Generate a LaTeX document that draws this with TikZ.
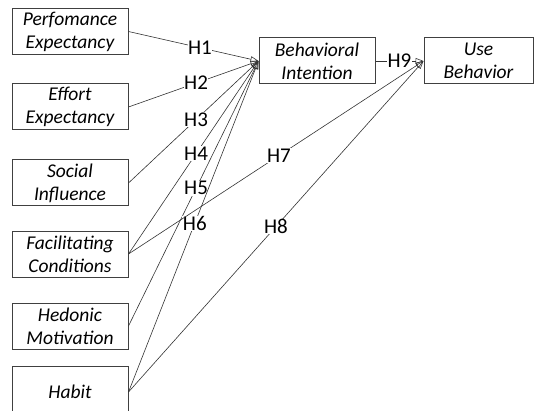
\documentclass[tikz,border=0pt]{standalone}
\usepackage{fontspec}
\setmainfont{Carlito}
\usetikzlibrary{arrows.meta}
\tikzset{
    construct/.style = {draw=black!75, line width=1pt, minimum width=116pt, minimum height=46pt,
        inner sep=0pt, align=center, font=\fontsize{19.5}{23}\selectfont\itshape},
    path edge/.style = {draw=black!80, line width=0.6pt, -{Triangle[open,length=8pt,width=6pt]}},
    hyp/.style = {fill=white, inner sep=0.5pt, font=\fontsize{21}{23}\selectfont},
}

\begin{document}
\begin{tikzpicture}[x=1pt, y=-1pt]
            \clip (0, 0) rectangle (534, 411);

            \node[construct] (PE) at (70, 31.5) {Perfomance\\Expectancy};
            \node[construct] (EE) at (70, 107) {Effort\\Expectancy};
            \node[construct] (SI) at (70, 183) {Social\\Influence};
            \node[construct] (FC) at (70, 254) {Facilitating\\Conditions};
            \node[construct] (HM) at (70, 326) {Hedonic\\Motivation};
            \node[construct, minimum height=52pt] (HB) at (70, 392) {Habit};

            \node[construct] (BI) at (317, 61) {Behavioral\\Intention};
            \node[construct, minimum width=109pt] (UB) at (478.5, 61) {Use\\Behavior};

            \draw[path edge] (PE.east) -- node[hyp, pos=0.55] {H1} (BI.west);
            \draw[path edge] (EE.east) -- node[hyp, pos=0.52] {H2} (BI.west);
            \draw[path edge] (SI.east) -- node[hyp, pos=0.52] {H3} (BI.west);
            \draw[path edge] (FC.east) -- node[hyp, pos=0.52] {H4} (BI.west);
            \draw[path edge] (HM.east) -- node[hyp, pos=0.52] {H5} (BI.west);
            \draw[path edge] (HB.east) -- node[hyp, pos=0.51] {H6} (BI.west);
            \draw[path edge] (FC.east) -- node[hyp, pos=0.51] {H7} (UB.west);
            \draw[path edge] (HB.east) -- node[hyp, pos=0.5] {H8} (UB.west);
            \draw[path edge] (BI.east) -- node[hyp, pos=0.5] {H9} (UB.west);
        \end{tikzpicture}
\end{document}
